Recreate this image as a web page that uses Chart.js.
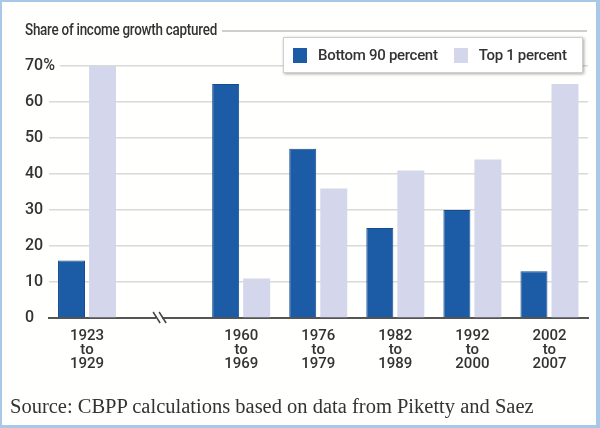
<!DOCTYPE html>
<html>
<head>
<meta charset="utf-8">
<script src="https://cdn.jsdelivr.net/npm/chart.js@4"></script>
<style>
  html, body { margin: 0; padding: 0; background: #fff; }
  #wrap { position: relative; width: 600px; height: 428px; overflow: hidden; background: #fffffd; }
  #wrap canvas { position: absolute; left: 0; top: 0; }
  .frame { position: absolute; inset: 0; border: 2px solid #a9c7e6; border-right-width: 4px; border-bottom-width: 3px; pointer-events: none; }
  .cond { font-family: Roboto, "DejaVu Sans Condensed", sans-serif; font-weight: 500; letter-spacing: -0.3px; }
  .title { position: absolute; left: 25px; top: 20px; font-size: 16px; color: #333; white-space: nowrap;
           transform: scaleX(0.84); transform-origin: 0 0; }
  .title-rule { position: absolute; left: 222px; width: 365px; top: 30px; height: 1.5px; background: #cfcfcf; }
  .legend { position: absolute; left: 283px; top: 37px; width: 300px; height: 36px; background: #fff;
            border: 1px solid #cfcfcf; box-shadow: 1px 1px 3px rgba(0,0,0,0.35); box-sizing: border-box;
            display: flex; align-items: center; font-size: 15px; color: #333; white-space: nowrap; }
  .legend .item { display: flex; align-items: center; margin-left: 9px; margin-right: 7px; }
  .legend .sw { width: 14px; height: 15px; margin-right: 11px; }
  .source { position: absolute; left: 10px; top: 395px; font-family: "Liberation Serif", "DejaVu Serif", serif;
            font-size: 20.5px; color: #333; white-space: nowrap; }
</style>
</head>
<body>
<div id="wrap">
  <canvas id="chart" width="600" height="428"></canvas>
  <div class="title cond">Share of income growth captured</div>
  <div class="title-rule"></div>
  <div class="legend cond" id="legend"></div>
  <div class="source">Source: CBPP calculations based on data from Piketty and Saez</div>
  <div class="frame"></div>
</div>
<script>
// periods (the empty one is the break between 1929 and 1960)
const periods = [
  ['1923', 'to', '1929'],
  '',
  ['1960', 'to', '1969'],
  ['1976', 'to', '1979'],
  ['1982', 'to', '1989'],
  ['1992', 'to', '2000'],
  ['2002', 'to', '2007'],
];
const bottom90 = [16, null, 65, 47, 25, 30, 13];
const top1 = [70, null, 11, 36, 41, 44, 65];
const yTicks = [0, 10, 20, 30, 40, 50, 60, 70];

const BLUE = '#1c5ca6';
const LILAC = '#d4d6ec';
const BG = '#fffffd';
const condFont = 'Roboto, "DejaVu Sans Condensed", sans-serif';

// the little "\\" mark on the axis at the break
const breakMark = {
  id: 'breakMark',
  afterDraw(chart) {
    const { ctx, scales: { x, y } } = chart;
    const cx = x.getPixelForValue(1) - 4;
    const cy = y.getPixelForValue(0);
    ctx.save();
    ctx.fillStyle = BG;
    ctx.fillRect(cx - 4, cy - 3, 6, 6);
    ctx.strokeStyle = '#444';
    ctx.lineWidth = 1.5;
    [-3, 3].forEach((dx) => {
      ctx.beginPath();
      ctx.moveTo(cx + dx - 4, cy - 6);
      ctx.lineTo(cx + dx + 3, cy + 5);
      ctx.stroke();
    });
    ctx.restore();
  },
};

const chart = new Chart(document.getElementById('chart').getContext('2d'), {
  type: 'bar',
  data: {
    labels: periods,
    datasets: [
      { label: 'Bottom 90 percent', data: bottom90, backgroundColor: BLUE, borderColor: '#174c8c', borderWidth: 1 },
      { label: 'Top 1 percent', data: top1, backgroundColor: LILAC, borderWidth: 0 },
    ],
  },
  options: {
    responsive: false,
    animation: false,
    layout: { padding: { left: 25, top: 66, right: 12, bottom: 0 } },
    datasets: { bar: { categoryPercentage: 0.805, barPercentage: 0.87 } },
    plugins: {
      legend: { display: false },
      tooltip: { enabled: false },
    },
    scales: {
      x: {
        grid: { display: false },
        border: { display: true, color: '#555', width: 2 },
        ticks: {
          color: '#333',
          padding: 3,
          maxRotation: 0,
          autoSkip: false,
          font: { family: condFont, size: 15, weight: 500, lineHeight: 0.95 },
        },
        afterFit: (s) => { s.height = 110; },
      },
      y: {
        min: 0,
        max: 70,
        afterBuildTicks: (s) => { s.ticks = yTicks.map((v) => ({ value: v })); },
        grid: { color: '#d9d9d9', lineWidth: 1.5, drawTicks: false },
        border: { display: false },
        ticks: {
          color: '#333',
          mirror: true,          // so "70%" is not clipped to the narrow axis box
          padding: -23.5,
          crossAlign: 'near',
          showLabelBackdrop: true,
          backdropColor: BG,
          backdropPadding: { left: 0, right: 5, top: 0, bottom: 0 },
          font: { family: condFont, size: 16, weight: 500 },
          callback: (v) => (v === 70 ? '70%' : v),
        },
        afterFit: (s) => { s.width = 23.5; },
      },
    },
  },
  plugins: [breakMark],
});

// legend built from the datasets
const legendEl = document.getElementById('legend');
chart.data.datasets.forEach((ds) => {
  const item = document.createElement('div');
  item.className = 'item';
  item.innerHTML = '<div class="sw" style="background:' + ds.backgroundColor + '"></div><span>' + ds.label + '</span>';
  legendEl.appendChild(item);
});
</script>
</body>
</html>
